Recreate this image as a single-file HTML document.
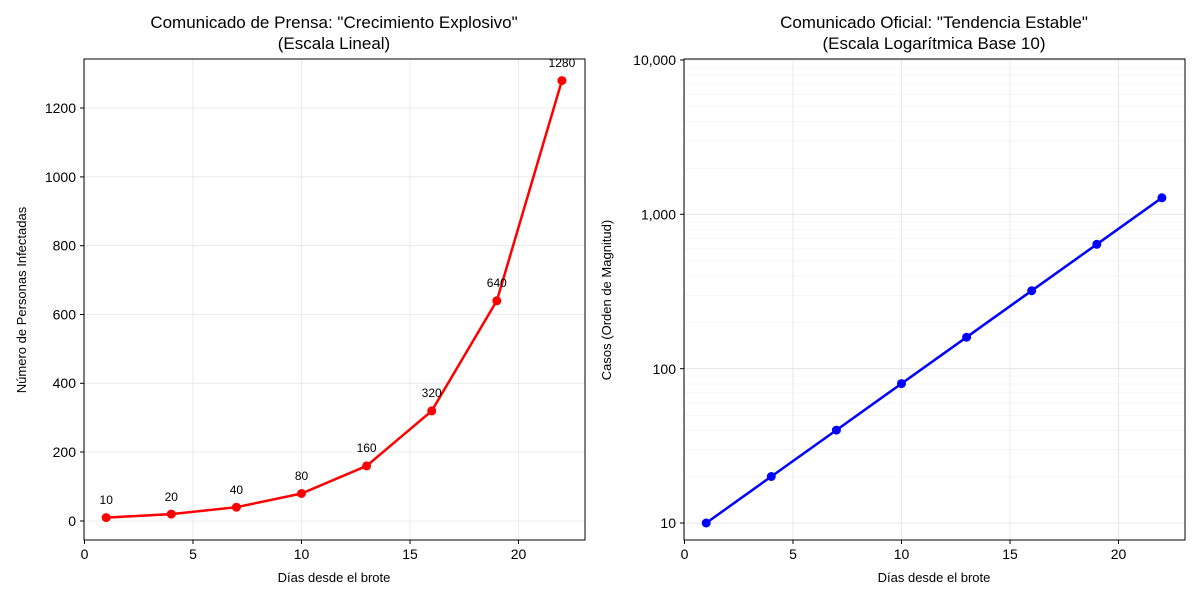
<!DOCTYPE html>
<html><head><meta charset="utf-8"><style>body{margin:0;background:#fff}svg{display:block;font-family:"Liberation Sans",sans-serif}</style></head><body>
<svg width="1200" height="600" xmlns="http://www.w3.org/2000/svg">
<rect width="1200" height="600" fill="#fff"/>
<!-- LEFT -->
<g stroke="#e6e6e6" stroke-width="0.8">
<line x1="84.5" y1="59" x2="84.5" y2="540"/><line x1="193" y1="59" x2="193" y2="540"/><line x1="301.5" y1="59" x2="301.5" y2="540"/><line x1="410" y1="59" x2="410" y2="540"/><line x1="518.5" y1="59" x2="518.5" y2="540"/>
<line x1="84" y1="521" x2="585" y2="521"/><line x1="84" y1="452" x2="585" y2="452"/><line x1="84" y1="383.3" x2="585" y2="383.3"/><line x1="84" y1="314.5" x2="585" y2="314.5"/><line x1="84" y1="245.7" x2="585" y2="245.7"/><line x1="84" y1="176.9" x2="585" y2="176.9"/><line x1="84" y1="108" x2="585" y2="108"/>
</g>
<rect x="84" y="59" width="501" height="481" fill="none" stroke="#000" stroke-width="1"/>
<g stroke="#000"><line x1="84.5" y1="540" x2="84.5" y2="544"/><line x1="193" y1="540" x2="193" y2="544"/><line x1="301.5" y1="540" x2="301.5" y2="544"/><line x1="410" y1="540" x2="410" y2="544"/><line x1="518.5" y1="540" x2="518.5" y2="544"/>
<line x1="80" y1="521" x2="84" y2="521"/><line x1="80" y1="452" x2="84" y2="452"/><line x1="80" y1="383.3" x2="84" y2="383.3"/><line x1="80" y1="314.5" x2="84" y2="314.5"/><line x1="80" y1="245.7" x2="84" y2="245.7"/><line x1="80" y1="176.9" x2="84" y2="176.9"/><line x1="80" y1="108" x2="84" y2="108"/></g>
<g font-size="14" text-anchor="middle"><text x="84.5" y="559">0</text><text x="193" y="559">5</text><text x="301.5" y="559">10</text><text x="410" y="559">15</text><text x="518.5" y="559">20</text></g>
<g font-size="14" text-anchor="end"><text x="76" y="526">0</text><text x="76" y="457">200</text><text x="76" y="388">400</text><text x="76" y="319.5">600</text><text x="76" y="250.7">800</text><text x="76" y="182">1000</text><text x="76" y="113">1200</text></g>
<text x="334" y="582" font-size="13" text-anchor="middle">Días desde el brote</text>
<text transform="translate(26,300) rotate(-90)" font-size="13" text-anchor="middle">Número de Personas Infectadas</text>
<text x="334" y="28" font-size="17" text-anchor="middle">Comunicado de Prensa: "Crecimiento Explosivo"</text>
<text x="334" y="49" font-size="17" text-anchor="middle">(Escala Lineal)</text>
<polyline fill="none" stroke="#f00" stroke-width="2.5" points="106.2,517.6 171.3,514.1 236.4,507.2 301.5,493.5 366.6,465.9 431.7,410.9 496.8,300.8 561.9,80.6"/>
<g fill="#f00"><circle cx="106.2" cy="517.6" r="4.5"/><circle cx="171.3" cy="514.1" r="4.5"/><circle cx="236.4" cy="507.2" r="4.5"/><circle cx="301.5" cy="493.5" r="4.5"/><circle cx="366.6" cy="465.9" r="4.5"/><circle cx="431.7" cy="410.9" r="4.5"/><circle cx="496.8" cy="300.8" r="4.5"/><circle cx="561.9" cy="80.6" r="4.5"/></g>
<g font-size="12" text-anchor="middle"><text x="106.2" y="504">10</text><text x="171.3" y="501">20</text><text x="236.4" y="494">40</text><text x="301.5" y="480">80</text><text x="366.6" y="452">160</text><text x="431.7" y="397">320</text><text x="496.8" y="287">640</text><text x="561.9" y="67">1280</text></g>
<!-- RIGHT -->
<g stroke="#f0f0f0" stroke-width="0.6">
<line x1="684" y1="477" x2="1185" y2="477"/><line x1="684" y1="449.6" x2="1185" y2="449.6"/><line x1="684" y1="430.3" x2="1185" y2="430.3"/><line x1="684" y1="415.4" x2="1185" y2="415.4"/><line x1="684" y1="403.2" x2="1185" y2="403.2"/><line x1="684" y1="392.8" x2="1185" y2="392.8"/><line x1="684" y1="383.9" x2="1185" y2="383.9"/><line x1="684" y1="376" x2="1185" y2="376"/>
<line x1="684" y1="322.5" x2="1185" y2="322.5"/><line x1="684" y1="295.3" x2="1185" y2="295.3"/><line x1="684" y1="276" x2="1185" y2="276"/><line x1="684" y1="261.1" x2="1185" y2="261.1"/><line x1="684" y1="248.8" x2="1185" y2="248.8"/><line x1="684" y1="238.5" x2="1185" y2="238.5"/><line x1="684" y1="229.5" x2="1185" y2="229.5"/><line x1="684" y1="221.6" x2="1185" y2="221.6"/>
<line x1="684" y1="168.3" x2="1185" y2="168.3"/><line x1="684" y1="141" x2="1185" y2="141"/><line x1="684" y1="121.7" x2="1185" y2="121.7"/><line x1="684" y1="106.8" x2="1185" y2="106.8"/><line x1="684" y1="94.5" x2="1185" y2="94.5"/><line x1="684" y1="84.2" x2="1185" y2="84.2"/><line x1="684" y1="75.2" x2="1185" y2="75.2"/><line x1="684" y1="67.3" x2="1185" y2="67.3"/>
</g>
<g stroke="#e3e3e3" stroke-width="0.8">
<line x1="684.5" y1="59" x2="684.5" y2="540"/><line x1="793" y1="59" x2="793" y2="540"/><line x1="901.5" y1="59" x2="901.5" y2="540"/><line x1="1010" y1="59" x2="1010" y2="540"/><line x1="1118.5" y1="59" x2="1118.5" y2="540"/>
<line x1="684" y1="523" x2="1185" y2="523"/><line x1="684" y1="368.7" x2="1185" y2="368.7"/><line x1="684" y1="214.3" x2="1185" y2="214.3"/><line x1="684" y1="60" x2="1185" y2="60"/>
</g>
<rect x="684" y="59" width="501" height="481" fill="none" stroke="#000" stroke-width="1"/>
<g stroke="#000"><line x1="684.5" y1="540" x2="684.5" y2="544"/><line x1="793" y1="540" x2="793" y2="544"/><line x1="901.5" y1="540" x2="901.5" y2="544"/><line x1="1010" y1="540" x2="1010" y2="544"/><line x1="1118.5" y1="540" x2="1118.5" y2="544"/>
<line x1="680" y1="523" x2="684" y2="523"/><line x1="680" y1="368.7" x2="684" y2="368.7"/><line x1="680" y1="214.3" x2="684" y2="214.3"/><line x1="680" y1="60" x2="684" y2="60"/></g>
<g font-size="14" text-anchor="middle"><text x="684.5" y="559">0</text><text x="793" y="559">5</text><text x="901.5" y="559">10</text><text x="1010" y="559">15</text><text x="1118.5" y="559">20</text></g>
<g font-size="14" text-anchor="end"><text x="676" y="528">10</text><text x="676" y="374">100</text><text x="676" y="219.5">1,000</text><text x="676" y="65">10,000</text></g>
<text x="934" y="582" font-size="13" text-anchor="middle">Días desde el brote</text>
<text transform="translate(611,300) rotate(-90)" font-size="13" text-anchor="middle">Casos (Orden de Magnitud)</text>
<text x="934" y="28" font-size="17" text-anchor="middle">Comunicado Oficial: "Tendencia Estable"</text>
<text x="934" y="49" font-size="17" text-anchor="middle">(Escala Logarítmica Base 10)</text>
<polyline fill="none" stroke="#00f" stroke-width="2.5" points="706.2,523 771.3,476.5 836.4,430.1 901.5,383.6 966.6,337.2 1031.7,290.7 1096.8,244.3 1161.9,197.8"/>
<g fill="#00f"><circle cx="706.2" cy="523" r="4.5"/><circle cx="771.3" cy="476.5" r="4.5"/><circle cx="836.4" cy="430.1" r="4.5"/><circle cx="901.5" cy="383.6" r="4.5"/><circle cx="966.6" cy="337.2" r="4.5"/><circle cx="1031.7" cy="290.7" r="4.5"/><circle cx="1096.8" cy="244.3" r="4.5"/><circle cx="1161.9" cy="197.8" r="4.5"/></g>
</svg>
</body></html>
